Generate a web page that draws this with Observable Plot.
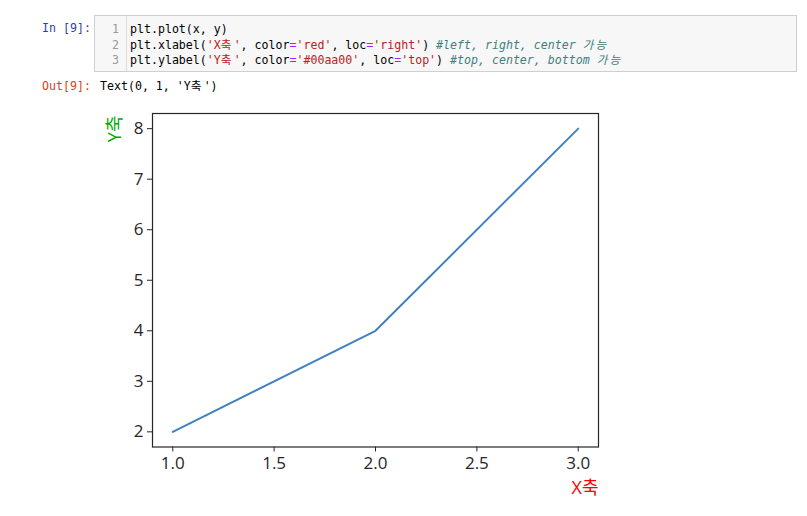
<!DOCTYPE html>
<html>
<head>
<meta charset="utf-8">
<script src="https://cdn.jsdelivr.net/npm/d3@7"></script>
<script src="https://cdn.jsdelivr.net/npm/@observablehq/plot@0.6"></script>
<style>
  html, body { margin: 0; padding: 0; background: #fff; }
  #page { position: relative; width: 807px; height: 516px; overflow: hidden; }
  .mono { font-family: "DejaVu Sans Mono", "Noto Sans CJK KR", monospace; font-size: 11.6px; white-space: pre; }
  .k { letter-spacing: 2.2px; }
  .prompt { position: absolute; line-height: 16px; }
  #box { position: absolute; left: 94px; top: 15px; width: 701px; height: 55px; background: #f7f7f7; border: 1px solid #cfcfcf; }
  #gutter { position: absolute; left: 0; top: 0; width: 31px; height: 55px; border-right: 1px solid #dddddd; }
  .ln { position: absolute; right: 7px; color: #999; line-height: 16px; }
  .code { position: absolute; left: 35px; line-height: 16px; color: #000; }
  .s { color: #BA2121; }
  .o { color: #AA22FF; }
  .c { color: #408080; font-style: italic; }
  #chart { position: absolute; left: 0; top: 100px; }
</style>
</head>
<body>
<div id="page">
  <div class="mono prompt" style="left:42px; top:20px; color:#303F9F;">In [9]:</div>
  <div id="box" class="mono">
    <div id="gutter">
      <div class="ln" style="top:5px;">1</div>
      <div class="ln" style="top:20.5px;">2</div>
      <div class="ln" style="top:36px;">3</div>
    </div>
    <div class="code" style="top:5px;">plt.plot(x, y)</div>
    <div class="code" style="top:20.5px;">plt.xlabel(<span class="s">'X<span class="k">축</span>'</span>, color<span class="o">=</span><span class="s">'red'</span>, loc<span class="o">=</span><span class="s">'right'</span>) <span class="c">#left, right, center <span class="k">가능</span></span></div>
    <div class="code" style="top:36px;">plt.ylabel(<span class="s">'Y<span class="k">축</span>'</span>, color<span class="o">=</span><span class="s">'#00aa00'</span>, loc<span class="o">=</span><span class="s">'top'</span>) <span class="c">#top, center, bottom <span class="k">가능</span></span></div>
  </div>
  <div class="mono prompt" style="left:42px; top:78px; color:#D84315;">Out[9]:</div>
  <div class="mono prompt" style="left:100px; top:78px; color:#000;">Text(0, 1, 'Y<span class="k">축</span>')</div>
  <div id="chart"></div>
</div>
<script>
const xValues = [1, 2, 3];
const yValues = [2, 4, 8];
const xTicks = [1.0, 1.5, 2.0, 2.5, 3.0];
const yTicks = [2, 3, 4, 5, 6, 7, 8];
const xLabel = "X축";
const yLabel = "Y축";

const rows = xValues.map((x, i) => ({x, y: yValues[i]}));

const chart = Plot.plot({
  width: 807,
  height: 416,
  marginLeft: 152,
  marginRight: 209,
  marginTop: 13,
  marginBottom: 69.5,
  x: {domain: [0.9, 3.1]},
  y: {domain: [1.7, 8.3]},
  style: {fontFamily: "'Open Sans', 'Noto Sans CJK KR', sans-serif", fontSize: "17px", background: "#fff", color: "#262626", overflow: "visible"},
  marks: [
    Plot.axisX({ticks: xTicks, tickSize: 5, tickPadding: 5, tickFormat: d => d.toFixed(1), label: null, stroke: "#262626"}),
    Plot.axisY({ticks: yTicks, tickSize: 5, tickPadding: 4, tickFormat: d => String(d), label: null, stroke: "#262626"}),
    Plot.line(rows, {x: "x", y: "y", stroke: "#4281c0", strokeWidth: 2}),
    Plot.frame({stroke: "#262626", strokeWidth: 1.2}),
    Plot.text([xLabel], {text: d => d, frameAnchor: "bottom-right", textAnchor: "end", lineAnchor: "middle", dy: 41, fill: "red", fontSize: 18}),
    Plot.text([yLabel], {text: d => d, frameAnchor: "top-left", textAnchor: "end", lineAnchor: "middle", rotate: -90, dx: -37, dy: 2, fill: "#00aa00", fontSize: 18})
  ]
});
document.getElementById("chart").appendChild(chart);
</script>
</body>
</html>
